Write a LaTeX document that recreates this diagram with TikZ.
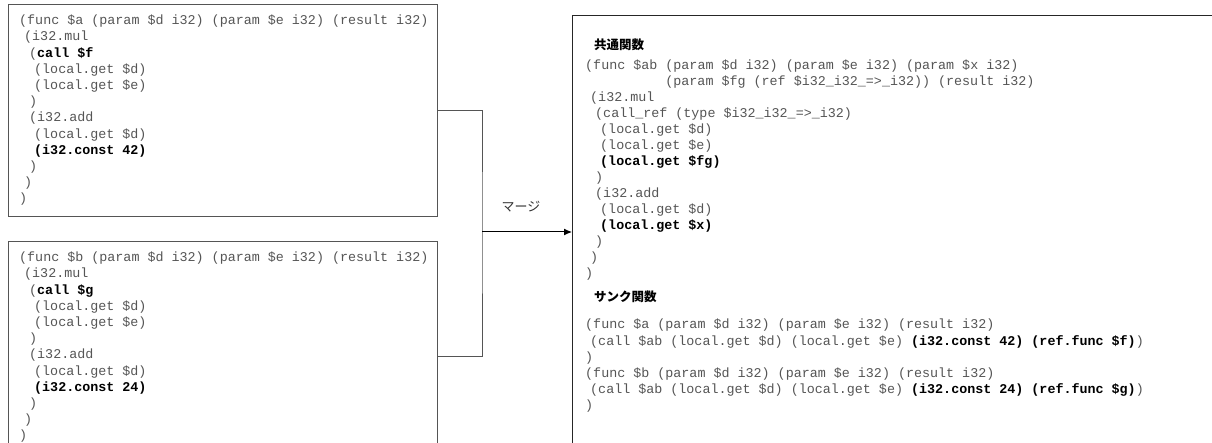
\documentclass[tikz,border=0pt]{standalone}
\usepackage{fontspec}
\setmonofont{Liberation Mono}
\newfontfamily\cjk{Noto Sans CJK JP}
\usetikzlibrary{arrows.meta}
\definecolor{codegray}{HTML}{555555}
\definecolor{linegray}{HTML}{555555}
\newcommand{\bx}[1]{\textbf{\color{black}#1}}
\newcommand{\ind}[1]{\hspace*{#1pt}}
\tikzset{
  box/.style={draw=linegray, line width=1pt, inner sep=0pt, outer sep=0pt, anchor=north west},
  codeline/.style={anchor=base west, inner sep=0pt, font=\ttfamily\fontsize{13.37}{16}\selectfont, text=codegray},
  head/.style={anchor=west, inner sep=0pt, font=\cjk\bfseries\fontsize{12.5}{14}\selectfont, text=black},
  lbl/.style={inner sep=0pt, font=\cjk\fontsize{13}{15}\selectfont, text=black!80},
  conn/.style={draw=linegray, line width=1pt},
  arr/.style={draw=black, line width=1pt, -{Latex[length=8pt,width=7pt]}},
}
\begin{document}
\begin{tikzpicture}[x=1pt,y=1pt]
\useasboundingbox (0,0) rectangle (1212,-443);
\clip (0,0) rectangle (1212,-443);
% boxes
\node[box, minimum width=429pt, minimum height=212pt] (A) at (8,-5) {};
\node[box, minimum width=429pt, minimum height=228pt] (B) at (8,-242) {};
\node[box, draw=black!85, minimum width=660pt, minimum height=432pt] (R) at (572,-16) {};
% box A code
\foreach \t [count=\i from 0] in {
  {(func \$a (param \$d i32) (param \$e i32) (result i32)},
  {\ind{5}(i32.mul},
  {\ind{10}(\bx{call \$f}},
  {\ind{15}(local.get \$d)},
  {\ind{15}(local.get \$e)},
  {\ind{10})},
  {\ind{10}(i32.add},
  {\ind{15}(local.get \$d)},
  {\ind{15}\bx{(i32.const 42)}},
  {\ind{10})},
  {\ind{5})},
  {)}}
  \node[codeline] (a\i) at (19,{-24.7-16.2*\i}) {\t};
% box B code
\foreach \t [count=\i from 0] in {
  {(func \$b (param \$d i32) (param \$e i32) (result i32)},
  {\ind{5}(i32.mul},
  {\ind{10}(\bx{call \$g}},
  {\ind{15}(local.get \$d)},
  {\ind{15}(local.get \$e)},
  {\ind{10})},
  {\ind{10}(i32.add},
  {\ind{15}(local.get \$d)},
  {\ind{15}\bx{(i32.const 24)}},
  {\ind{10})},
  {\ind{5})},
  {)}}
  \node[codeline] (b\i) at (19,{-261.7-16.2*\i}) {\t};
% right box: common function
\node[head] (h1) at (594,-45) {共通関数};
\foreach \t [count=\i from 0] in {
  {(func \$ab (param \$d i32) (param \$e i32) (param \$x i32)},
  {\ind{80.2}(param \$fg (ref \$i32\_i32\_=>\_i32)) (result i32)},
  {\ind{5}(i32.mul},
  {\ind{10}(call\_ref (type \$i32\_i32\_=>\_i32)},
  {\ind{15}(local.get \$d)},
  {\ind{15}(local.get \$e)},
  {\ind{15}\bx{(local.get \$fg)}},
  {\ind{10})},
  {\ind{10}(i32.add},
  {\ind{15}(local.get \$d)},
  {\ind{15}\bx{(local.get \$x)}},
  {\ind{10})},
  {\ind{5})},
  {)}}
  \node[codeline] (c\i) at (585,{-70-16*\i}) {\t};
% right box: thunks
\node[head] (h2) at (594,-297) {サンク関数};
\foreach \t [count=\i from 0] in {
  {(func \$a (param \$d i32) (param \$e i32) (result i32)},
  {\ind{5}(call \$ab (local.get \$d) (local.get \$e) \bx{(i32.const 42) (ref.func \$f)})},
  {)},
  {(func \$b (param \$d i32) (param \$e i32) (result i32)},
  {\ind{5}(call \$ab (local.get \$d) (local.get \$e) \bx{(i32.const 24) (ref.func \$g)})},
  {)}}
  \node[codeline] (t\i) at (585,{-329-16*\i}) {\t};
% connectors
\coordinate (m) at (482,-232);
\draw[conn] (A.east) -| (m) |- (B.east);
\draw[arr] (m) -- (R.west);
\node[lbl] (merge) at (521,-207) {マージ};
\end{tikzpicture}
\end{document}
